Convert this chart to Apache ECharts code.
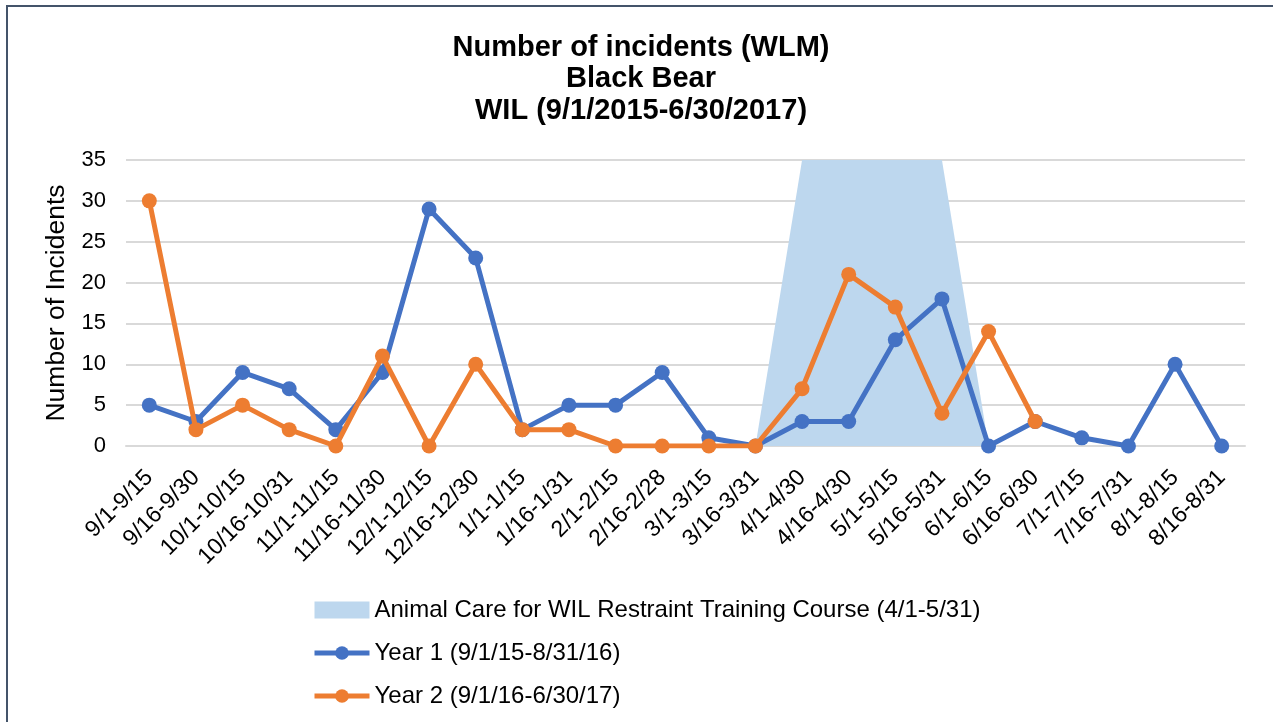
<!DOCTYPE html>
<html>
<head>
<meta charset="utf-8">
<script src="https://cdn.jsdelivr.net/npm/echarts@6/dist/echarts.min.js"></script>
<style>
  html, body { margin: 0; padding: 0; background: #fff; overflow: hidden; }
  #frame {
    position: absolute; left: 6px; top: 5px; width: 2000px; height: 2000px;
    border-left: 2px solid #44546a; border-top: 2px solid #44546a;
  }
  #chart { position: absolute; left: 0; top: 0; width: 1273px; height: 722px; }
</style>
</head>
<body>
<div id="frame"></div>
<div id="chart"></div>
<script>
// categories (half-month periods)
var periods = ['9/1-9/15', '9/16-9/30', '10/1-10/15', '10/16-10/31', '11/1-11/15', '11/16-11/30',
  '12/1-12/15', '12/16-12/30', '1/1-1/15', '1/16-1/31', '2/1-2/15', '2/16-2/28', '3/1-3/15',
  '3/16-3/31', '4/1-4/30', '4/16-4/30', '5/1-5/15', '5/16-5/31', '6/1-6/15', '6/16-6/30',
  '7/1-7/15', '7/16-7/31', '8/1-8/15', '8/16-8/31']
var year1 = [5, 3, 9, 7, 2, 9, 29, 23, 2, 5, 5, 9, 1, 0, 3, 3, 13, 18, 0, 3, 1, 0, 10, 0]
var year2 = [30, 2, 5, 2, 0, 11, 0, 10, 2, 2, 0, 0, 0, 0, 7, 21, 17, 4, 14, 3]
// training course band (4/1-5/31)
var training = ['-', '-', '-', '-', '-', '-', '-', '-', '-', '-', '-', '-', '-',
  0, 35, 35, 35, 35, 0, '-', '-', '-', '-', '-']
var yTicks = { min: 0, max: 35, interval: 5 }

var names = [
  'Animal Care for WIL Restraint Training Course (4/1-5/31)',
  'Year 1 (9/1/15-8/31/16)',
  'Year 2 (9/1/16-6/30/17)'
]
var font = "'Liberation Sans', Arial, sans-serif"

var chart = echarts.init(document.getElementById('chart'))
chart.setOption({
  animation: false,
  textStyle: { fontFamily: font },
  title: {
    text: 'Number of incidents (WLM)\nBlack Bear\nWIL (9/1/2015-6/30/2017)',
    left: 636,
    textAlign: 'center',
    top: 27,
    textStyle: { fontFamily: font, fontSize: 29, fontWeight: 'bold', color: '#000', lineHeight: 31.5 }
  },
  legend: {
    orient: 'vertical',
    left: 307,
    top: 593,
    itemWidth: 55,
    itemHeight: 17,
    itemGap: 19,
    lineStyle: { width: 5 },
    textStyle: { fontFamily: font, fontSize: 24, color: '#000', lineHeight: 24 },
    data: [
      { name: names[0], icon: 'rect' },
      { name: names[1] },
      { name: names[2] }
    ]
  },
  grid: { left: 126, right: 28, top: 160, bottom: 276 },
  xAxis: {
    type: 'category',
    data: periods,
    boundaryGap: true,
    axisLine: { lineStyle: { color: '#d9d9d9', width: 2 } },
    axisTick: { show: false },
    axisLabel: { rotate: 45, fontSize: 23, color: '#000', margin: 28, interval: 0 }
  },
  yAxis: {
    type: 'value',
    min: yTicks.min,
    max: yTicks.max,
    interval: yTicks.interval,
    name: 'Number of Incidents',
    nameLocation: 'middle',
    nameRotate: 90,
    nameGap: 53,
    nameTextStyle: { fontSize: 26.5, color: '#000' },
    axisLine: { show: false },
    axisTick: { show: false },
    axisLabel: { fontSize: 22, color: '#000', margin: 20 },
    splitLine: { lineStyle: { color: '#d9d9d9', width: 2 } }
  },
  series: [
    {
      name: names[0],
      type: 'line',
      data: training,
      color: '#bdd7ee',
      showSymbol: false,
      lineStyle: { width: 0 },
      areaStyle: { color: '#bdd7ee', opacity: 1 },
      z: 1
    },
    {
      name: names[1],
      type: 'line',
      data: year1,
      color: '#4472c4',
      symbol: 'circle',
      symbolSize: 15,
      lineStyle: { width: 5 },
      z: 3
    },
    {
      name: names[2],
      type: 'line',
      data: year2,
      color: '#ed7d31',
      symbol: 'circle',
      symbolSize: 15,
      lineStyle: { width: 5 },
      z: 4
    }
  ]
})
</script>
</body>
</html>
